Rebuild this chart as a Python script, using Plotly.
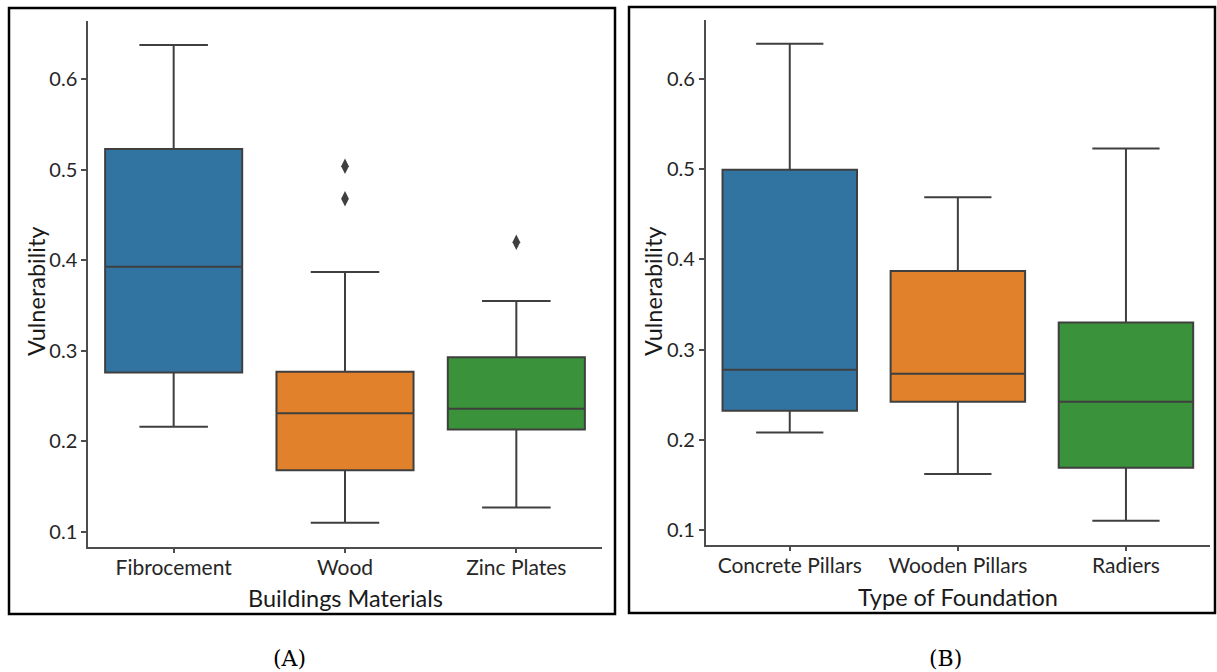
import plotly.graph_objects as go

W, H = 1217, 672

# ---------------- data ----------------
mat_cats = ["Fibrocement", "Wood", "Zinc Plates"]
mat_lower = [0.216, 0.110, 0.127]
mat_q1 = [0.276, 0.168, 0.213]
mat_median = [0.393, 0.231, 0.236]
mat_q3 = [0.523, 0.277, 0.293]
mat_upper = [0.638, 0.387, 0.355]
mat_out_cat = ["Wood", "Wood", "Zinc Plates"]
mat_out_val = [0.504, 0.468, 0.420]

fnd_cats = ["Concrete Pillars", "Wooden Pillars", "Radiers"]
fnd_lower = [0.208, 0.162, 0.110]
fnd_q1 = [0.232, 0.242, 0.169]
fnd_median = [0.2775, 0.273, 0.242]
fnd_q3 = [0.4995, 0.387, 0.330]
fnd_upper = [0.639, 0.469, 0.523]
fnd_out_cat = []
fnd_out_val = []

y_ticks = [0.1, 0.2, 0.3, 0.4, 0.5, 0.6]

colors = ["#3274a1", "#e1812c", "#3a923a"]
line_col = "#3f3f3f"
axis_col = "#4d4d4d"
text_col = "#262626"
FONT = "Lato"

def px(x):
    return x / W

def py(y):
    return 1 - y / H

fig = go.Figure()

def add_panel(cats, lo, q1, med, q3, up, out_c, out_v, xa, ya):
    for i, c in enumerate(cats):
        fig.add_trace(go.Box(
            x=[c], q1=[q1[i]], median=[med[i]], q3=[q3[i]],
            lowerfence=[lo[i]], upperfence=[up[i]],
            fillcolor=colors[i], line=dict(color=line_col, width=2),
            width=0.8, whiskerwidth=0.5, boxpoints=False,
            xaxis=xa, yaxis=ya, showlegend=False, hoverinfo="skip"))
    if out_c:
        fig.add_trace(go.Scatter(
            x=out_c, y=out_v, mode="markers",
            marker=dict(symbol="diamond-tall", size=11, color=line_col),
            xaxis=xa, yaxis=ya, showlegend=False, hoverinfo="skip"))

add_panel(mat_cats, mat_lower, mat_q1, mat_median, mat_q3, mat_upper,
          mat_out_cat, mat_out_val, "x", "y")
add_panel(fnd_cats, fnd_lower, fnd_q1, fnd_median, fnd_q3, fnd_upper,
          fnd_out_cat, fnd_out_val, "x2", "y2")

def yrange(lo, up, outs):
    mn = min(lo + outs)
    mx = max(up + outs)
    pad = (mx - mn) * 0.05
    return [mn - pad, mx + pad]

common_x = dict(showline=True, linecolor=axis_col, linewidth=1.5, ticks="outside",
                ticklen=5, tickwidth=1.5, tickcolor=axis_col, showgrid=False,
                zeroline=False, range=[-0.5, 2.5], ticklabelstandoff=-4,
                tickfont=dict(family=FONT, size=21, color=text_col))
common_y = dict(showline=True, linecolor=axis_col, linewidth=1.5, ticks="outside",
                ticklen=5, tickwidth=1.5, tickcolor=axis_col, showgrid=False,
                zeroline=False, tickvals=y_ticks, tickformat=".1f",
                tickfont=dict(family=FONT, size=20, color=text_col))

fig.update_layout(
    width=W, height=H, margin=dict(l=0, r=0, t=0, b=0),
    paper_bgcolor="white", plot_bgcolor="white",
    boxmode="overlay",
    xaxis=dict(domain=[px(88), px(602)], anchor="y", type="category",
               categoryorder="array", categoryarray=mat_cats, **common_x),
    yaxis=dict(domain=[py(546.7), py(21)], anchor="x",
               range=yrange(mat_lower, mat_upper, mat_out_val), **common_y),
    xaxis2=dict(domain=[px(705.7), px(1210)], anchor="y2", type="category",
                categoryorder="array", categoryarray=fnd_cats, **common_x),
    yaxis2=dict(domain=[py(544.7), py(20)], anchor="x2",
                range=yrange(fnd_lower, fnd_upper, fnd_out_val), **common_y),
)

ann = []
def txt(x, y, s, size, family=FONT, angle=0, color="#1a1a1a"):
    ann.append(dict(x=px(x), y=py(y), xref="paper", yref="paper", text=s,
                    showarrow=False, textangle=angle, xanchor="center",
                    yanchor="middle", font=dict(family=family, size=size, color=color)))

txt(345, 598, "Buildings Materials", 23.5)
txt(958, 597, "Type of Foundation", 23.5)
txt(36, 292, "Vulnerability", 23.5, angle=-90)
txt(653, 292, "Vulnerability", 23.5, angle=-90)
txt(289, 658, "(A)", 22, family="DejaVu Serif", color="#000000")
txt(946, 658, "(B)", 22, family="DejaVu Serif", color="#000000")
fig.update_layout(annotations=ann)

shapes = [
    dict(type="rect", xref="paper", yref="paper", x0=px(9), x1=px(615),
         y0=py(614), y1=py(8), line=dict(color="black", width=2.5)),
    dict(type="rect", xref="paper", yref="paper", x0=px(629), x1=px(1215),
         y0=py(613), y1=py(7), line=dict(color="black", width=2.5)),
]
fig.update_layout(shapes=shapes)

fig.write_html("out.html")
